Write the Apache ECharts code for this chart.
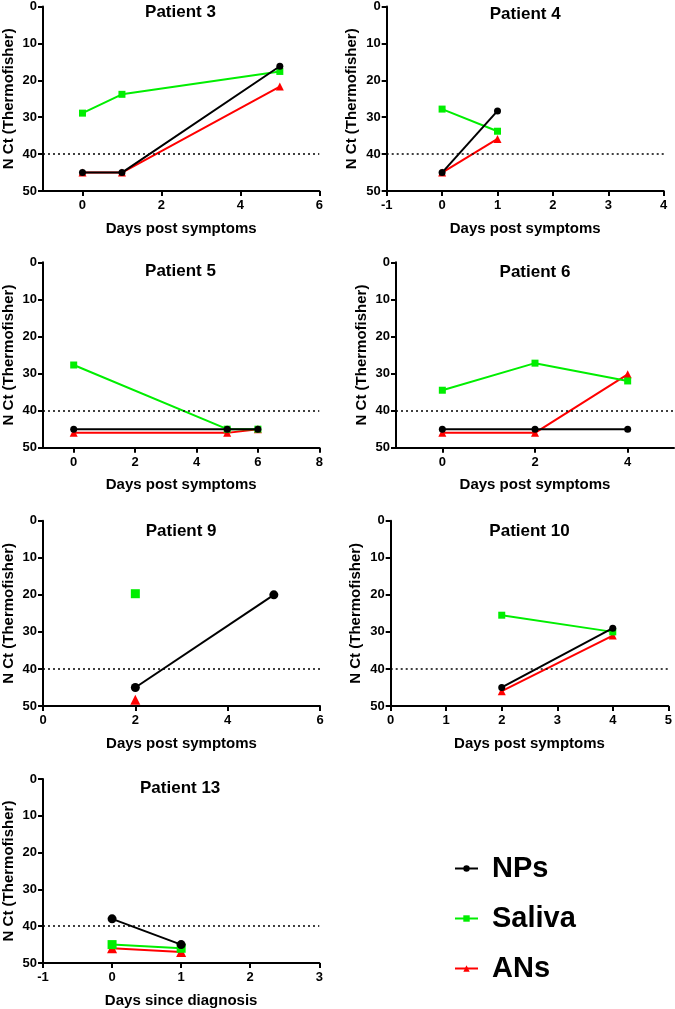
<!DOCTYPE html>
<html><head><meta charset="utf-8">
<script src="https://cdn.jsdelivr.net/npm/echarts@6/dist/echarts.min.js"></script>
<style>html,body{margin:0;padding:0;background:#fff}#c{width:675px;height:1009px}</style>
</head><body><div id="c"></div>
<script>
// ---- data ----
const patients = ['Patient 3','Patient 4','Patient 5','Patient 6','Patient 9','Patient 10','Patient 13'];
const xNames = ['Days post symptoms','Days post symptoms','Days post symptoms','Days post symptoms','Days post symptoms','Days post symptoms','Days since diagnosis'];
const xMin = [-1,-1,-1,-1,0,0,-1];
const xMax = [6,4,8,5,6,5,3];
const xTicks = [[0,2,4,6],[-1,0,1,2,3,4],[0,2,4,6,8],[0,2,4],[0,2,4,6],[0,1,2,3,4,5],[-1,0,1,2,3]];
const yTicks = [0,10,20,30,40,50];
const threshold = 40;
const npsData = [
  [[0,45],[1,45],[5,16.2]],
  [[0,45],[1,28.3]],
  [[0,45],[5,45],[6,45]],
  [[0,45],[2,45],[4,45]],
  [[2,45],[5,20]],
  [[2,45],[4,29]],
  [[0,38],[1,45]]
];
const salivaData = [
  [[0,28.9],[1,23.8],[5,17.6]],
  [[0,27.8],[1,33.8]],
  [[0,27.7],[5,45],[6,45]],
  [[0,34.5],[2,27.2],[4,32]],
  [[2,19.7]],
  [[2,25.5],[4,30]],
  [[0,45],[1,46]]
];
const ansData = [
  [[0,45],[1,45],[5,21.7]],
  [[0,45],[1,35.9]],
  [[0,46],[5,46],[6,45]],
  [[0,46],[2,46],[4,30.2]],
  [[2,48.3]],
  [[2,46],[4,31]],
  [[0,46],[1,47]]
];
const seriesNames = ['NPs','Saliva','ANs'];
const seriesColors = ['#000000','#00ee00','#ff0000'];
const seriesSymbols = ['circle','rect','triangle'];

// ---- layout ----
const grids = [
  {left:41.7, top:5.7, width:277.6, height:185.3},
  {left:386.7, top:5.7, width:277, height:185.3},
  {left:41.7, top:262.3, width:277.6, height:185.4},
  {left:396, top:262.3, width:278, height:185.4},
  {left:42.3, top:520.7, width:277.7, height:185.3},
  {left:390.7, top:520.7, width:277.6, height:185.3},
  {left:41, top:779, width:278.3, height:185.3}
];
const titleCenterY = [12.5,15,271.7,273.3,531.7,531.7,789.3];
const symSize = [7,7,7,7,9,7,9];
const FONT = '"Liberation Sans", Arial, sans-serif';

const option = {
  animation:false,
  backgroundColor:'#fff',
  textStyle:{fontFamily:FONT},
  grid:[], xAxis:[], yAxis:[], series:[], title:[],
  legend:{
    data:seriesNames, orient:'vertical', left:449, top:849, itemGap:21,
    itemWidth:23, itemHeight:8,
    textStyle:{fontSize:29, fontWeight:'bold', color:'#000', fontFamily:FONT, padding:[0,0,0,9]},
    selectedMode:false
  }
};

grids.forEach((g,i)=>{
  option.grid.push(Object.assign({containLabel:false}, g));
  option.title.push({
    text:patients[i], left:g.left+g.width/2, top:titleCenterY[i]-9, textAlign:'center', padding:0,
    textStyle:{fontSize:17, fontWeight:'bold', color:'#000', fontFamily:FONT}
  });
  option.xAxis.push({
    type:'value', gridIndex:i, min:xMin[i], max:xMax[i],
    name:xNames[i], nameLocation:'middle', nameGap:30,
    nameTextStyle:{fontSize:15, fontWeight:'bold', color:'#000', fontFamily:FONT},
    axisLine:{show:true, onZero:false, lineStyle:{color:'#000', width:2}},
    axisTick:{show:true, length:5, lineStyle:{color:'#000', width:2}, customValues:xTicks[i]},
    axisLabel:{fontSize:13, fontWeight:'bold', color:'#000', margin:8, customValues:xTicks[i], fontFamily:FONT},
    splitLine:{show:false}
  });
  option.yAxis.push({
    type:'value', gridIndex:i, min:0, max:50, inverse:true,
    name:'N Ct (Thermofisher)', nameLocation:'middle', nameGap:27, nameRotate:90,
    nameTextStyle:{fontSize:15, fontWeight:'bold', color:'#000', fontFamily:FONT},
    axisLine:{show:true, onZero:false, lineStyle:{color:'#000', width:2}},
    axisTick:{show:true, length:5, lineStyle:{color:'#000', width:2}, customValues:yTicks},
    axisLabel:{fontSize:13, fontWeight:'bold', color:'#000', margin:6, customValues:yTicks, fontFamily:FONT},
    splitLine:{show:false}
  });
  const dataSets = [npsData[i], salivaData[i], ansData[i]];
  // draw order: ANs, Saliva, NPs (NPs on top)
  [2,1,0].forEach(k=>{
    const s = {
      type:'line', name:seriesNames[k], xAxisIndex:i, yAxisIndex:i,
      data:dataSets[k], symbol:seriesSymbols[k], symbolSize:symSize[i] + (k===2?1:0),
      showSymbol:true, z:3+(2-k),
      itemStyle:{color:seriesColors[k]},
      lineStyle:{color:seriesColors[k], width:2},
      emphasis:{disabled:true}
    };
    if(k===0){
      s.markLine = {
        silent:true, symbol:['none','none'], label:{show:false},
        lineStyle:{type:[2,3], color:'#000', width:1.5},
        data:[{yAxis:threshold}]
      };
    }
    option.series.push(s);
  });
});

const chart = echarts.init(document.getElementById('c'), null, {renderer:'canvas'});
chart.setOption(option);
</script>
</body></html>
